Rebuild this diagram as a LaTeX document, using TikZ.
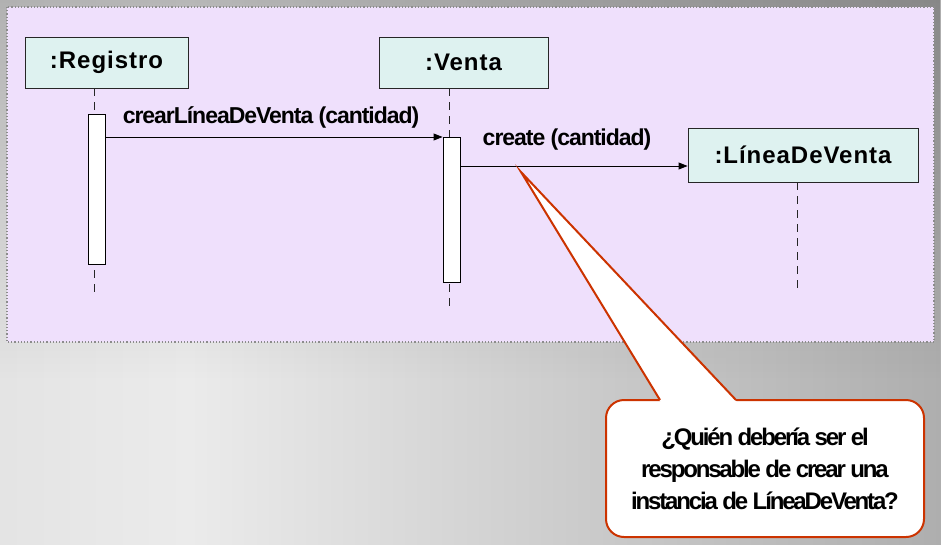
\documentclass[tikz,border=0pt]{standalone}
\usepackage{fontspec}
\setmainfont{Liberation Sans}
\newfontfamily\msgfont[LetterSpace=-4.5]{Liberation Sans}
\newfontfamily\qfont[LetterSpace=-9]{Liberation Sans}
\newfontfamily\objfont[LetterSpace=4]{Liberation Sans}
\usetikzlibrary{arrows.meta,fadings}
\definecolor{panelfill}{HTML}{EFE0FC}
\definecolor{objfill}{HTML}{DEF2F0}
\definecolor{calred}{HTML}{CC3300}
\definecolor{bgl}{HTML}{D2D2D2}
\definecolor{bgm}{HTML}{EBEBEB}
\definecolor{bgr}{HTML}{888888}
\pgfdeclarehorizontalshading{bgshade}{100bp}{color(0bp)=(bgl); color(35bp)=(bgm); color(100bp)=(bgr)}
\begin{document}
\begin{tikzpicture}[x=1pt,y=-1pt,
  obj/.style={draw=black!85, fill=objfill, line width=0.9pt, font=\objfont\fontsize{24}{28}\selectfont\bfseries, inner sep=0pt},
  act/.style={draw=black, fill=white, line width=0.9pt, minimum width=17pt, inner sep=0pt},
  life/.style={draw=black!85, line width=0.9pt, dash pattern=on 8pt off 6pt},
  msg/.style={draw=black, line width=0.9pt, -{Triangle[length=9pt,width=7pt]}},
  lbl/.style={font=\msgfont\fontsize{23}{26}\selectfont\bfseries, inner sep=0pt},
  callout/.style={draw=calred, line width=2pt, fill=white, rounded corners=18pt, inner sep=0pt, align=center, font=\qfont\fontsize{24}{32}\selectfont\bfseries}
]
\useasboundingbox (0,0) rectangle (941,544);
\shade[shading=bgshade] (0,0) rectangle (941,544);
\fill[black, path fading=south, fill opacity=0.22] (0,0) rectangle (941,380);
\draw[draw=black!45, line width=1.2pt, dotted, fill=panelfill] (7,7) rectangle (934,342);

% objects
\node[obj, minimum width=163pt, minimum height=51pt] (reg) at (106.5,62.5) {:Registro};
\node[obj, minimum width=169pt, minimum height=51pt] (ven) at (463.5,62.5) {:Venta};
\node[obj, minimum width=230pt, minimum height=54pt] (lin) at (803,155) {:LíneaDeVenta};

% lifelines
\coordinate (regend) at (94,298);
\coordinate (venend) at (449,308);
\coordinate (linend) at (797,290);
\draw[life] (reg.south -| regend) -- (regend);
\draw[life] (ven.south -| venend) -- (venend);
\draw[life] (lin.south -| linend) -- (linend);

% activations
\node[act, minimum height=150pt] (ra) at (97,189) {};
\node[act, minimum height=145pt] (va) at (451.5,209.5) {};

% messages
\coordinate (m1) at (0,137);
\coordinate (m2) at (0,166);
\draw[msg] (ra.east |- m1) -- (va.west |- m1);
\draw[msg] (va.east |- m2) -- (lin.west |- m2);
\node[lbl] (l1) at (271,117) {crearLíneaDeVenta (cantidad)};
\node[lbl] (l2) at (567,140) {create (cantidad)};

% callout
\node[callout, minimum width=318pt, minimum height=137pt] (q) at (765,468.5)
  {¿Quién debería ser el\\responsable de crear una\\instancia de LíneaDeVenta?};
\coordinate (tip) at (521,172);
\coordinate (tl) at (660,400);
\coordinate (tr) at (736,400);
\fill[white] (tip) -- (661.2,403) -- (737.9,403) -- cycle;
\draw[calred, line width=2pt, line join=miter] (tl) -- (tip) -- (tr);
\end{tikzpicture}
\end{document}
